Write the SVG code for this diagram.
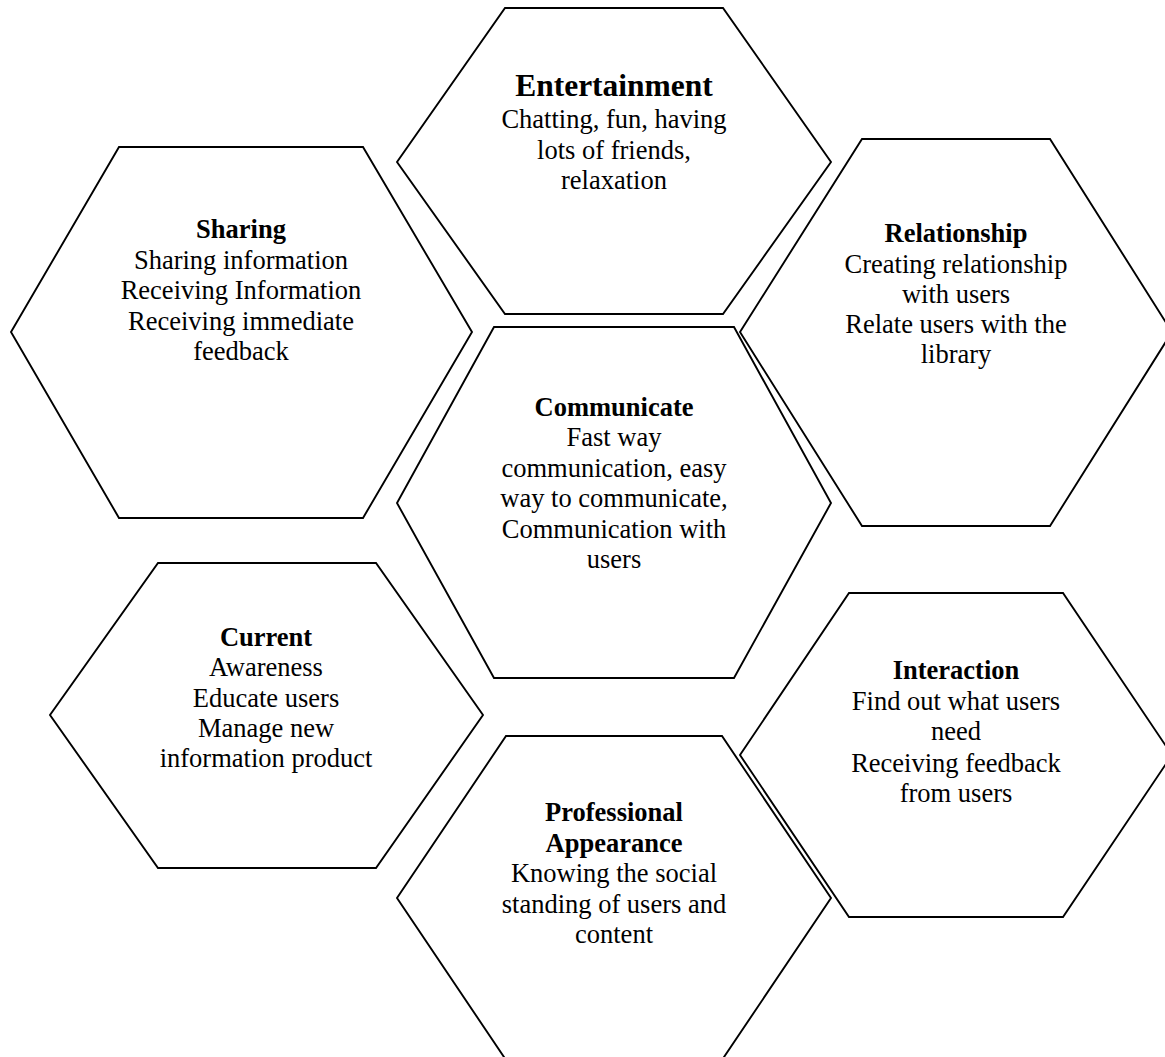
<svg xmlns="http://www.w3.org/2000/svg" width="1165" height="1057" viewBox="0 0 1165 1057">
<style>
.hex{fill:none;stroke:#000;stroke-width:1.9;stroke-linejoin:miter}
text{font-family:"Liberation Serif","Times New Roman",serif;font-size:26.5px;fill:#000;text-anchor:middle}
.t{font-weight:bold}
.big{font-size:31.5px}
</style>
<rect width="1165" height="1057" fill="#fff"/>
<g id="connectors"></g>
<g id="entertainment">
<polygon class="hex" points="505,8 723,8 831,162 723,314 505,314 397,162"/>
<text class="t big" x="614" y="96">Entertainment</text>
<text x="614" y="128">Chatting, fun, having</text>
<text x="614" y="159">lots of friends,</text>
<text x="614" y="189">relaxation</text>
</g>
<g id="sharing">
<polygon class="hex" points="119,147 363,147 472,332 363,518 119,518 11,332"/>
<text class="t" x="241" y="238">Sharing</text>
<text x="241" y="269">Sharing information</text>
<text x="241" y="299">Receiving Information</text>
<text x="241" y="330">Receiving immediate</text>
<text x="241" y="360">feedback</text>
</g>
<g id="relationship">
<polygon class="hex" points="862,139 1050,139 1172,332 1050,526 862,526 740,332"/>
<text class="t" x="956" y="242">Relationship</text>
<text x="956" y="273">Creating relationship</text>
<text x="956" y="303">with users</text>
<text x="956" y="333">Relate users with the</text>
<text x="956" y="363">library</text>
</g>
<g id="communicate">
<polygon class="hex" points="494,327 734,327 831,503 734,678 494,678 397,503"/>
<text class="t" x="614" y="416">Communicate</text>
<text x="614" y="446">Fast way</text>
<text x="614" y="477">communication, easy</text>
<text x="614" y="507">way to communicate,</text>
<text x="614" y="538">Communication with</text>
<text x="614" y="568">users</text>
</g>
<g id="current">
<polygon class="hex" points="158,563 376,563 483,715 376,868 158,868 50,715"/>
<text class="t" x="266" y="646">Current</text>
<text x="266" y="676">Awareness</text>
<text x="266" y="707">Educate users</text>
<text x="266" y="737">Manage new</text>
<text x="266" y="767">information product</text>
</g>
<g id="interaction">
<polygon class="hex" points="849,593 1063,593 1172,755 1063,917 849,917 740,755"/>
<text class="t" x="956" y="679">Interaction</text>
<text x="956" y="710">Find out what users</text>
<text x="956" y="740">need</text>
<text x="956" y="772">Receiving feedback</text>
<text x="956" y="802">from users</text>
</g>
<g id="professional">
<polygon class="hex" points="506,736 722,736 831,898 722,1060 506,1060 397,898"/>
<text class="t" x="614" y="821">Professional</text>
<text class="t" x="614" y="852">Appearance</text>
<text x="614" y="882">Knowing the social</text>
<text x="614" y="913">standing of users and</text>
<text x="614" y="943">content</text>
</g>
</svg>
